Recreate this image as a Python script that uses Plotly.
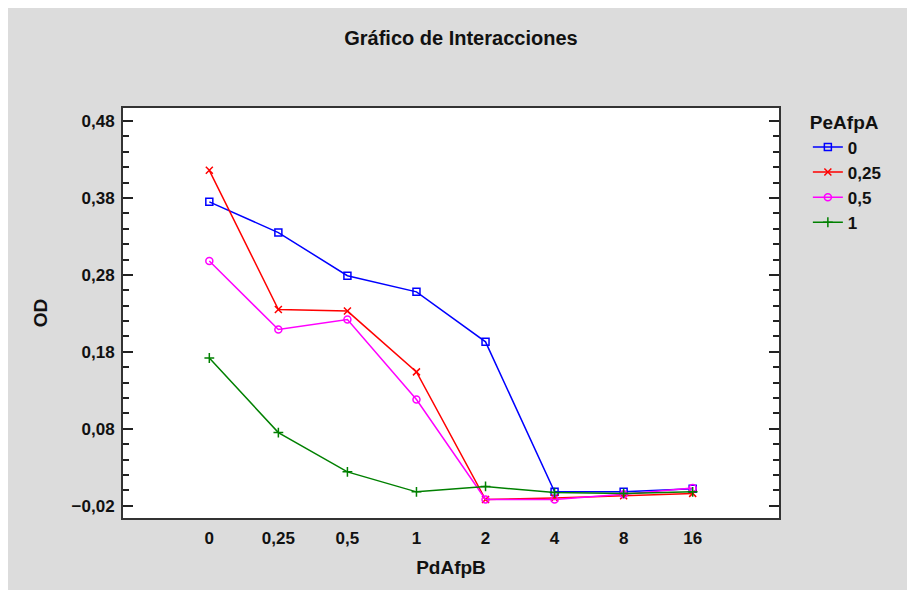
import plotly.graph_objects as go

categories = ["0", "0,25", "0,5", "1", "2", "4", "8", "16"]
series_names = ["0", "0,25", "0,5", "1"]
od_0 = [0.375, 0.335, 0.279, 0.258, 0.193, -0.002, -0.002, 0.002]
od_025 = [0.416, 0.235, 0.233, 0.154, -0.012, -0.010, -0.007, -0.004]
od_05 = [0.298, 0.209, 0.222, 0.118, -0.012, -0.012, -0.005, 0.003]
od_1 = [0.172, 0.075, 0.024, -0.002, 0.005, -0.003, -0.004, -0.002]
y_ticks = [-0.02, 0.08, 0.18, 0.28, 0.38, 0.48]

series = [od_0, od_025, od_05, od_1]
colors = ["#0000ff", "#ff0000", "#ff00ff", "#008000"]
symbols = ["square-open", "x-thin-open", "circle-open", "cross-thin-open"]

fig = go.Figure()
for name, vals, col, sym in zip(series_names, series, colors, symbols):
    fig.add_trace(go.Scatter(
        x=categories, y=vals, name=name, mode="lines+markers",
        line=dict(color=col, width=1.5),
        marker=dict(symbol=sym, size=7, color=col, line=dict(color=col, width=1.5)),
    ))

font_family = "Liberation Sans, Arial, sans-serif"
fig.update_layout(
    width=915, height=590,
    margin=dict(l=115, r=144, t=100, b=80),
    paper_bgcolor="#dcdcdc",
    plot_bgcolor="white",
    separators=",.",
    font=dict(family=font_family, size=17, color="#111111"),
    title=dict(text="<b>Gráfico de Interacciones</b>", x=0.495, xanchor="center",
               y=0.95, yanchor="middle", font=dict(size=20)),
    showlegend=True,
    legend=dict(title=dict(text="<b>PeAfpA</b>", font=dict(size=19)),
                font=dict(size=17, weight="bold"), x=1.044, xanchor="left",
                y=1.008, yanchor="top",
                bgcolor="rgba(0,0,0,0)", tracegroupgap=0),
)
fig.update_xaxes(
    type="category", categoryorder="array", categoryarray=categories,
    range=[-1.25, 8.25], showgrid=False, zeroline=False,
    showline=True, linecolor="#333333", linewidth=2, mirror=True, ticks="",
    tickfont=dict(size=17, weight="bold"), ticklabelstandoff=4,
    title=dict(text="<b>PdAfpB</b>", font=dict(size=19), standoff=13),
)
fig.update_yaxes(
    range=[-0.036, 0.497], tickvals=y_ticks, tickformat=".2f",
    showgrid=False, zeroline=False,
    showline=True, linecolor="#333333", linewidth=2, mirror="allticks",
    ticks="inside", ticklen=10, tickwidth=1.5, tickcolor="#222222",
    minor=dict(dtick=0.02, tick0=-0.02, ticks="inside", ticklen=6, tickwidth=1.5,
               tickcolor="#222222", showgrid=False),
    tickfont=dict(size=17, weight="bold"), ticklabelstandoff=3,
    title=dict(text="<b>OD</b>", font=dict(size=19), standoff=19),
)

fig.write_html("out.html")
